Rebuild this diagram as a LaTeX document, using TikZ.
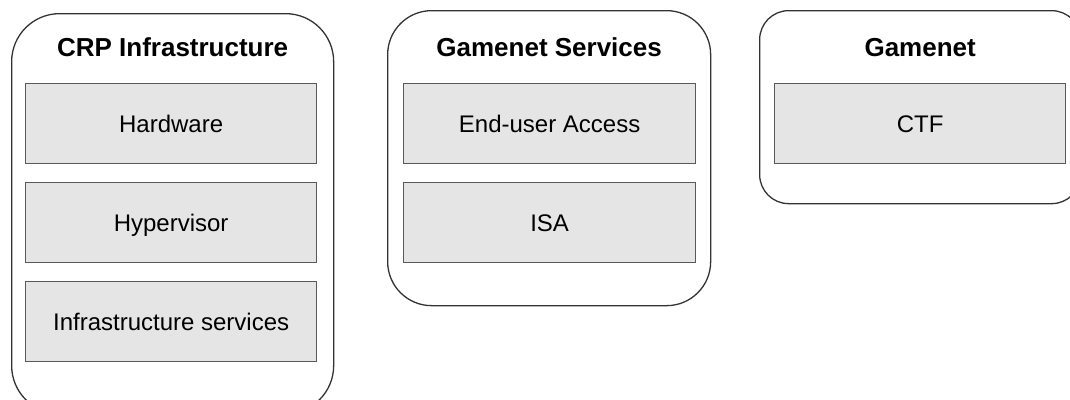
\documentclass[tikz,border=0pt]{standalone}
\usepackage{fontspec}
\setmainfont{Liberation Sans}
\begin{document}
\begin{tikzpicture}[x=1pt,y=-1pt,
  group/.style={draw=black!80, line width=1.3pt, fill=white, anchor=north west,
    inner sep=0pt},
  layer/.style={draw=black!65, line width=1.3pt, fill=black!10, anchor=north west,
    minimum width=291pt, minimum height=80pt, inner sep=0pt,
    text height=17.2pt, text depth=0pt, font=\fontsize{24}{28}\selectfont},
  heading/.style={anchor=base, inner sep=0pt, font=\bfseries\fontsize{26}{30}\selectfont}]
\useasboundingbox (0,0) rectangle (1070,399);

% CRP infrastructure column
\node[group, rounded corners=48pt, minimum width=322pt, minimum height=400pt] (crp) at (11,13) {};
\node[heading] (crpT) at ([xshift=0pt]crp.north |- 0,56) {CRP Infrastructure};
\node[layer] (hw)  at (25,83)  {Hardware};
\node[layer] (hv)  at (25,182) {Hypervisor};
\node[layer] (is)  at (25,281) {Infrastructure services};

% Gamenet services column
\node[group, rounded corners=44pt, minimum width=323pt, minimum height=295pt] (gs) at (387,10) {};
\node[heading] (gsT) at (gs.north |- 0,56) {Gamenet Services};
\node[layer, minimum width=292pt] (eua) at (403,83)  {End-user Access};
\node[layer, minimum width=292pt] (isa) at (403,182) {ISA};

% Gamenet column
\node[group, rounded corners=29pt, minimum width=321pt, minimum height=193pt] (gn) at (759,10) {};
\node[heading] (gnT) at (gn.north |- 0,56) {Gamenet};
\node[layer] (ctf) at (774,83) {CTF};
\end{tikzpicture}
\end{document}
